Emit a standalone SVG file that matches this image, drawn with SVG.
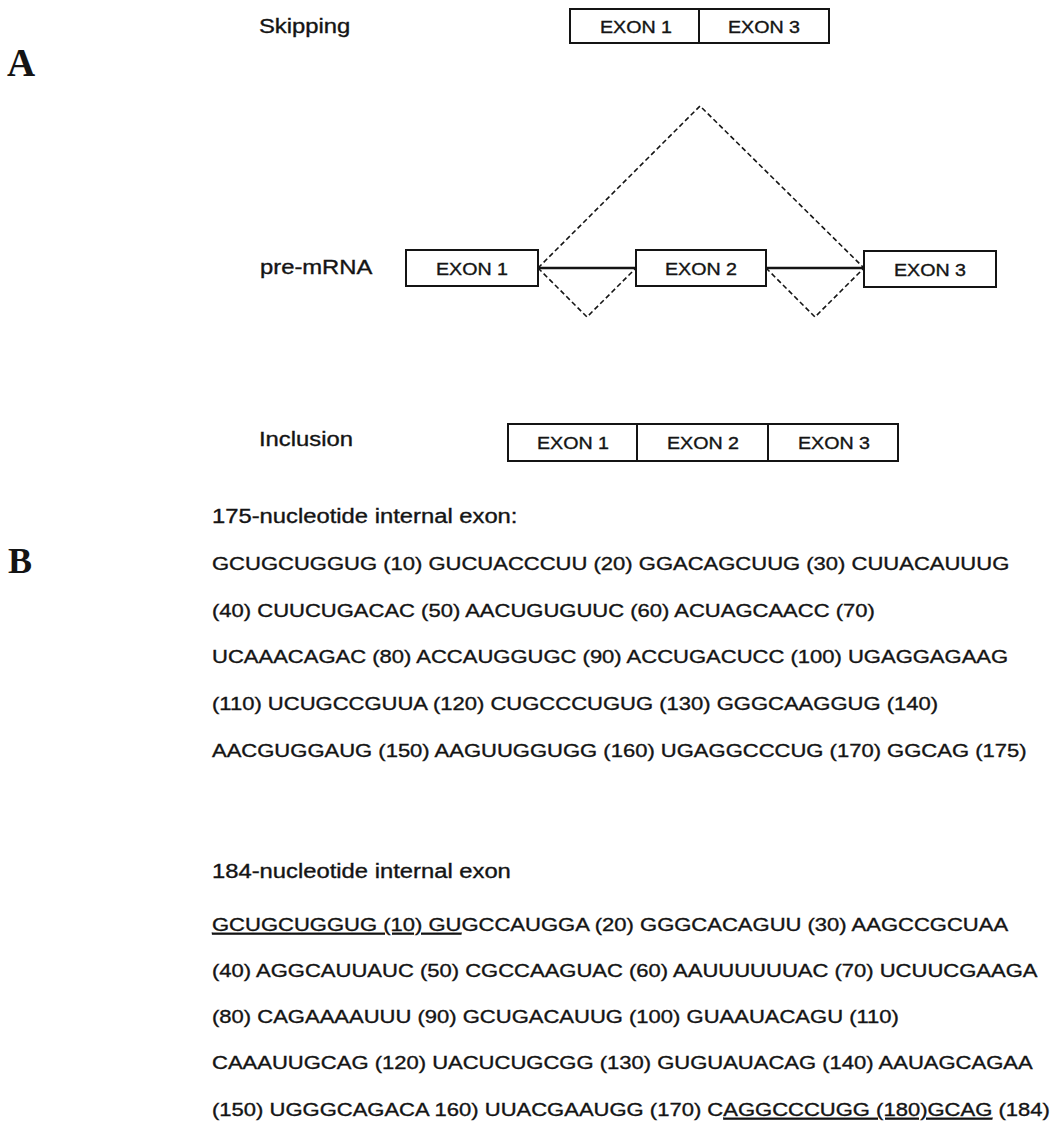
<svg xmlns="http://www.w3.org/2000/svg" width="1060" height="1142" viewBox="0 0 1060 1142">
<style>
.t{font-family:"Liberation Sans",Arial,Helvetica,sans-serif;fill:#141414;stroke:#141414;stroke-width:0.35}
.lab{font-size:20px}
.ex{font-size:16.5px;text-anchor:middle}
.seq{font-size:18.5px}
.hd{font-size:20px}
.big{font-family:"Liberation Serif","Times New Roman",serif;font-weight:bold;fill:#141414}
.box{fill:#fff;stroke:#141414;stroke-width:2}
.div{stroke:#141414;stroke-width:2}
.intron{stroke:#141414;stroke-width:2.4;fill:none}
.splice{stroke:#141414;stroke-width:1.6;stroke-dasharray:5 3;fill:none}
.u{text-decoration:underline}
</style>
<rect width="1060" height="1142" fill="#fff"/>

<g id="panel-labels">
<text class="big" x="7" y="76" font-size="39">A</text>
<text class="big" x="8" y="573" font-size="36">B</text>
</g>

<g id="row-labels">
<text class="t lab" transform="translate(259,33) scale(1.19,1)">Skipping</text>
<text class="t lab" transform="translate(260,274) scale(1.19,1)">pre-mRNA</text>
<text class="t lab" transform="translate(259,446) scale(1.19,1)">Inclusion</text>
</g>

<g id="skipping-product">
<rect class="box" x="570" y="9" width="259" height="34"/>
<line class="div" x1="699" y1="9" x2="699" y2="43"/>
<text class="t ex" transform="translate(636,33) scale(1.19,1)">EXON 1</text>
<text class="t ex" transform="translate(764,33) scale(1.19,1)">EXON 3</text>
</g>

<g id="connectors">
<line class="intron" x1="538" y1="268" x2="636" y2="268"/>
<line class="intron" x1="766" y1="268" x2="864" y2="268"/>
<polyline class="splice" points="538,268 700,106 864,268"/>
<polyline class="splice" points="538,268 587,317 636,268"/>
<polyline class="splice" points="766,268 815,317 864,268"/>
</g>

<g id="pre-exon1">
<rect class="box" x="406" y="250" width="132" height="36"/>
<text class="t ex" transform="translate(472,275) scale(1.19,1)">EXON 1</text>
</g>
<g id="pre-exon2">
<rect class="box" x="636" y="250" width="130" height="36"/>
<text class="t ex" transform="translate(701,275) scale(1.19,1)">EXON 2</text>
</g>
<g id="pre-exon3">
<rect class="box" x="864" y="251" width="132" height="36"/>
<text class="t ex" transform="translate(930,276) scale(1.19,1)">EXON 3</text>
</g>

<g id="inclusion-product">
<rect class="box" x="508" y="424" width="390" height="37"/>
<line class="div" x1="637" y1="424" x2="637" y2="461"/>
<line class="div" x1="768" y1="424" x2="768" y2="461"/>
<text class="t ex" transform="translate(573,449) scale(1.19,1)">EXON 1</text>
<text class="t ex" transform="translate(703,449) scale(1.19,1)">EXON 2</text>
<text class="t ex" transform="translate(834,449) scale(1.19,1)">EXON 3</text>
</g>

<g id="seq-175">
<text class="t hd" transform="translate(212,523) scale(1.19,1)">175-nucleotide internal exon:</text>
<text class="t seq" transform="translate(212,570) scale(1.19,1)">GCUGCUGGUG (10) GUCUACCCUU (20) GGACAGCUUG (30) CUUACAUUUG</text>
<text class="t seq" transform="translate(212,617) scale(1.19,1)">(40) CUUCUGACAC (50) AACUGUGUUC (60) ACUAGCAACC (70)</text>
<text class="t seq" transform="translate(212,663) scale(1.19,1)">UCAAACAGAC (80) ACCAUGGUGC (90) ACCUGACUCC (100) UGAGGAGAAG</text>
<text class="t seq" transform="translate(212,710) scale(1.19,1)">(110) UCUGCCGUUA (120) CUGCCCUGUG (130) GGGCAAGGUG (140)</text>
<text class="t seq" transform="translate(212,757) scale(1.19,1)">AACGUGGAUG (150) AAGUUGGUGG (160) UGAGGCCCUG (170) GGCAG (175)</text>
</g>

<g id="seq-184">
<text class="t hd" transform="translate(212,878) scale(1.19,1)">184-nucleotide internal exon</text>
<text class="t seq" transform="translate(212,931) scale(1.19,1)"><tspan class="u">GCUGCUGGUG (10) GU</tspan>GCCAUGGA (20) GGGCACAGUU (30) AAGCCGCUAA</text>
<text class="t seq" transform="translate(212,977) scale(1.19,1)">(40) AGGCAUUAUC (50) CGCCAAGUAC (60) AAUUUUUUAC (70) UCUUCGAAGA</text>
<text class="t seq" transform="translate(212,1023) scale(1.19,1)">(80) CAGAAAAUUU (90) GCUGACAUUG (100) GUAAUACAGU (110)</text>
<text class="t seq" transform="translate(212,1069) scale(1.19,1)">CAAAUUGCAG (120) UACUCUGCGG (130) GUGUAUACAG (140) AAUAGCAGAA</text>
<text class="t seq" transform="translate(212,1116) scale(1.19,1)">(150) UGGGCAGACA 160) UUACGAAUGG (170) C<tspan class="u">AGGCCCUGG (180)GCAG</tspan> (184)</text>
</g>
</svg>
